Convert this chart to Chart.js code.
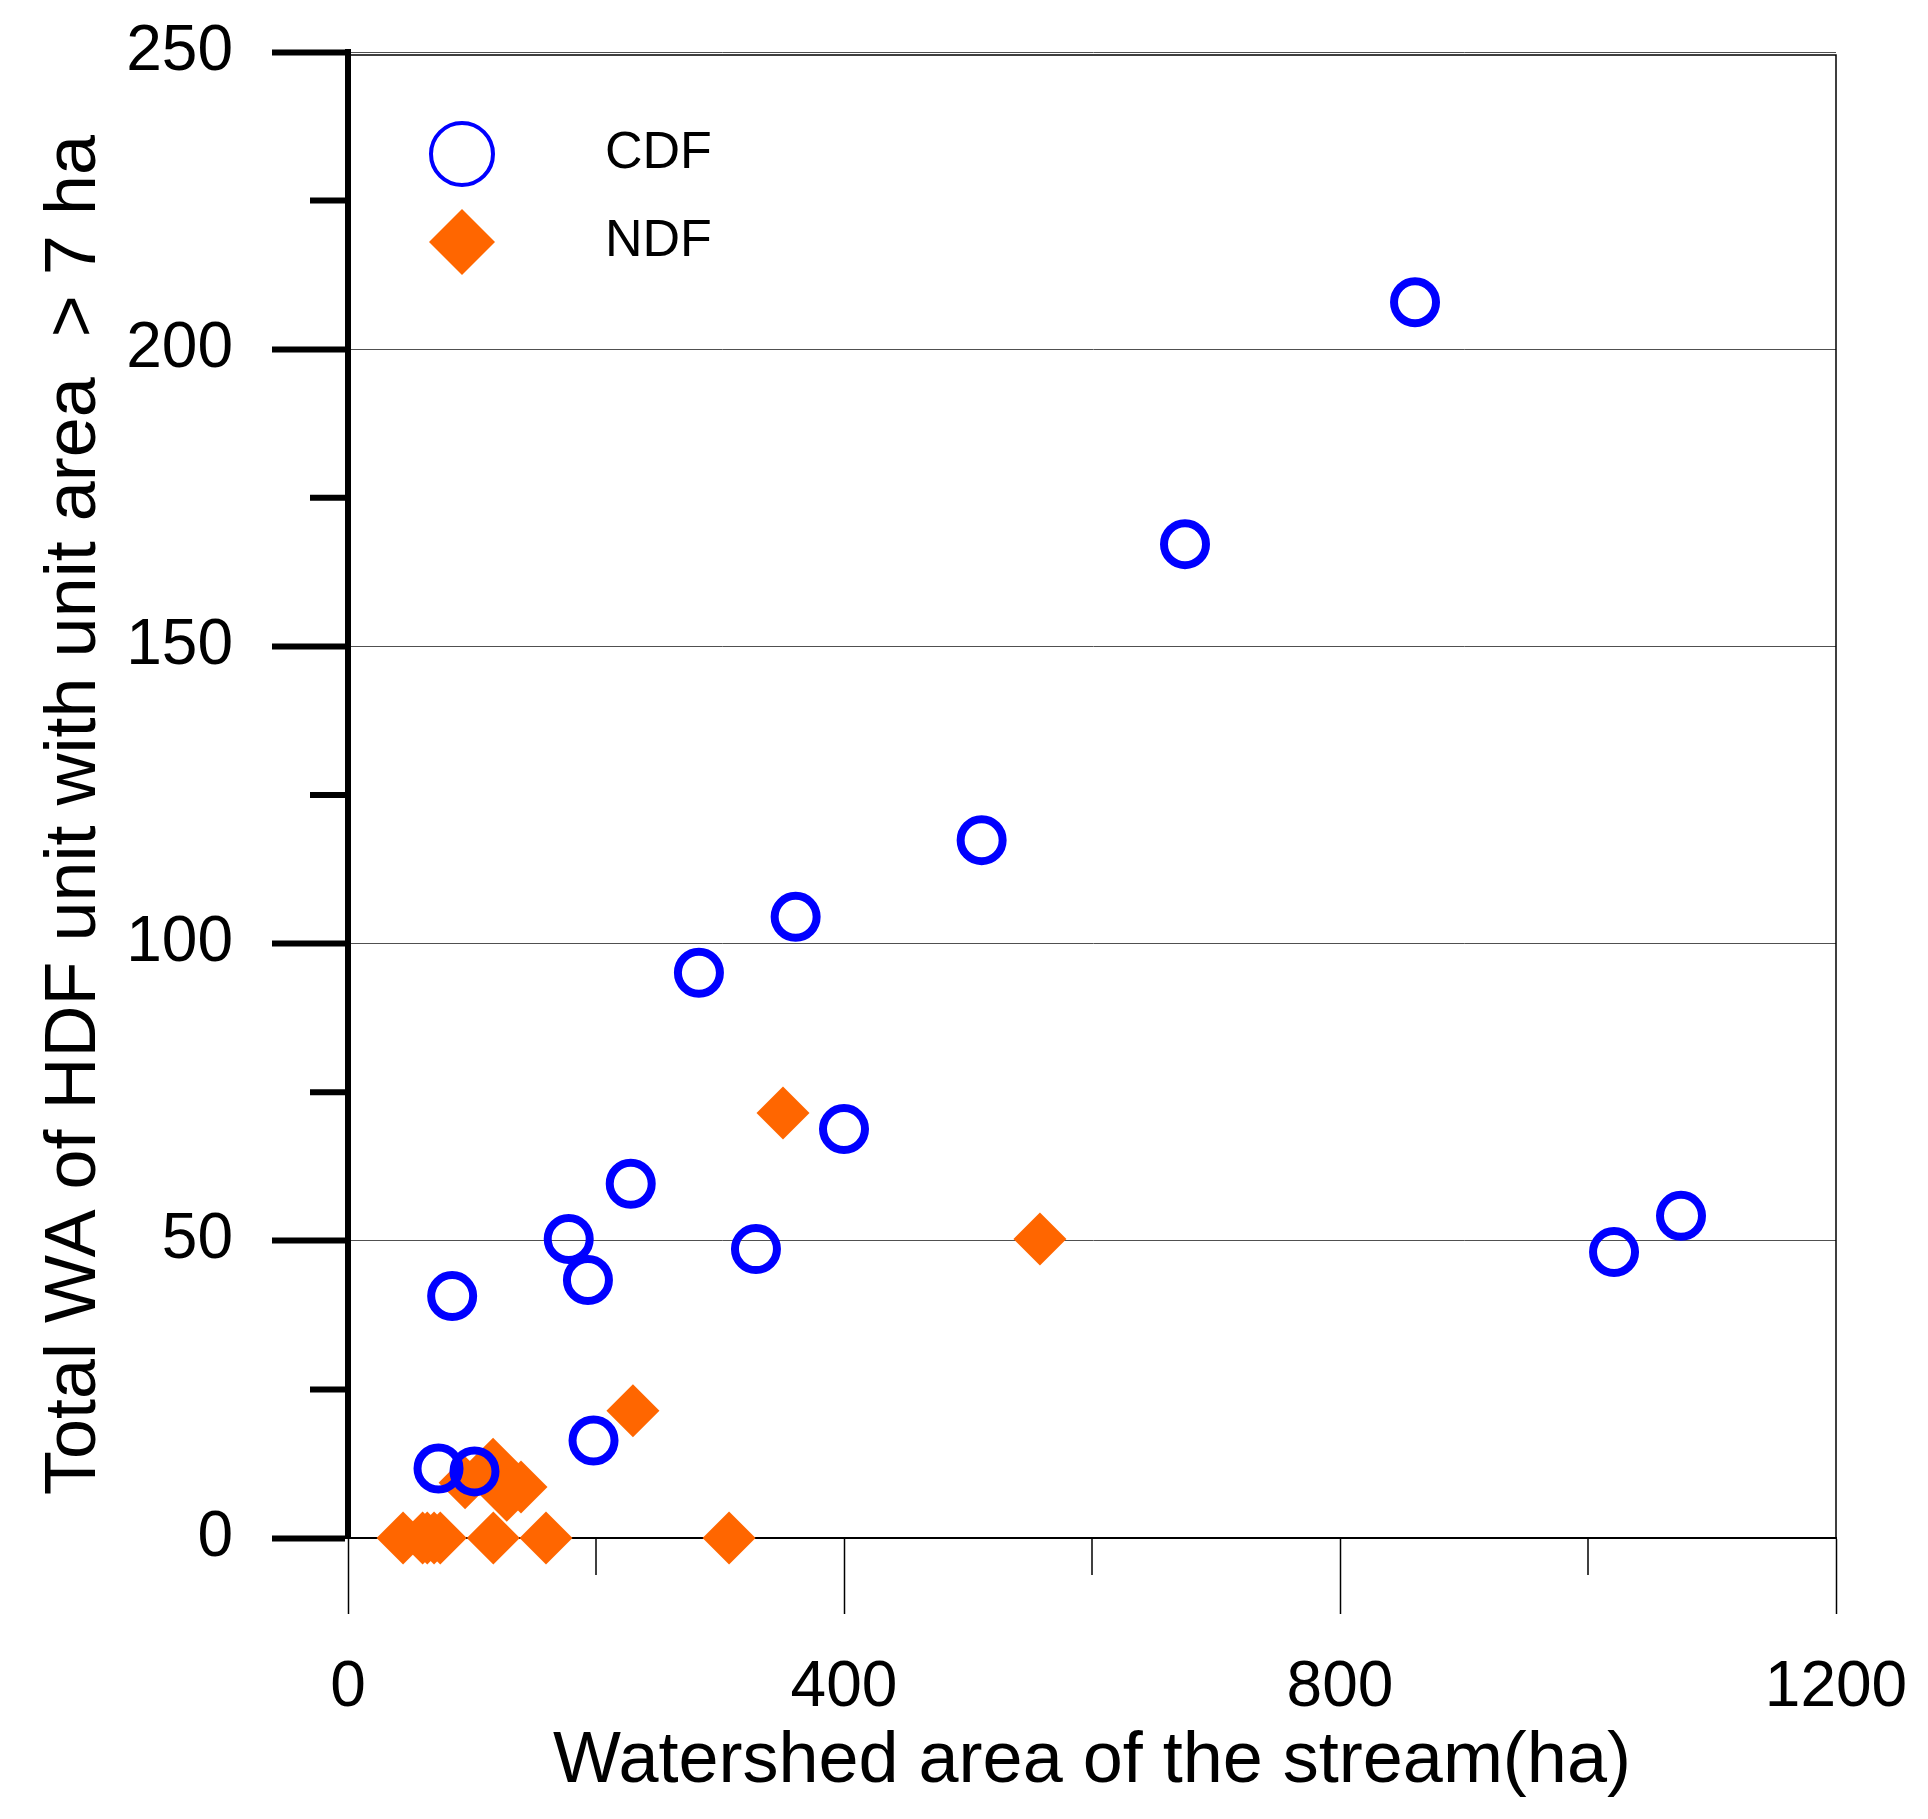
<!DOCTYPE html>
<html>
<head>
<meta charset="utf-8">
<script src="https://cdn.jsdelivr.net/npm/chart.js@4/dist/chart.umd.min.js"></script>
<style>
html, body { margin: 0; padding: 0; background: #fff; }
#wrap { width: 1928px; height: 1819px; position: relative; }
</style>
</head>
<body>
<div id="wrap"><canvas id="c"></canvas></div>
<script>
// ---- data ----
const seriesNames = ['CDF', 'NDF'];
const cdfX = [73, 84, 102, 178, 193.5, 198, 228, 283, 329, 361, 400, 511, 675, 860.5, 1021, 1075];
const cdfY = [11.7, 40.7, 11.2, 50.3, 43.4, 16.4, 59.6, 95.1, 48.6, 104.5, 68.8, 117.4, 167.2, 207.9, 48.1, 54.2];
const ndfX = [44.4, 60.2, 63.9, 69.4, 74.4, 94.4, 117, 117.2, 128, 139.5, 159.7, 229.8, 307.3, 350.8, 558];
const ndfY = [0, 0, 0, 0, 0, 9.3, 12.4, 0, 7.2, 8.6, 0, 21.4, 0, 71.5, 50.3];
const xTickValues = [0, 400, 800, 1200];
const xMinorTickValues = [200, 600, 1000];
const yTickValues = [0, 50, 100, 150, 200, 250];
const yMinorTickValues = [25, 75, 125, 175, 225];
const xAxisTitle = 'Watershed area of the stream(ha)';
const yAxisTitle = 'Total WA of HDF unit with unit area  > 7 ha';

const FONT = "'Liberation Sans', Arial, Helvetica, sans-serif";
Chart.defaults.font.family = FONT;
Chart.defaults.color = '#000';

const toPoints = (xs, ys) => xs.map((x, i) => ({ x: x, y: ys[i] }));

const decorPlugin = {
  id: 'decor',
  beforeDatasetsDraw(chart) {
    const { ctx, chartArea: a, scales: { x, y } } = chart;
    ctx.save();
    ctx.strokeStyle = '#000';
    // frame (top + right)
    ctx.lineWidth = 1.5;
    ctx.beginPath();
    ctx.moveTo(a.left, a.top + 3);
    ctx.lineTo(a.right, a.top + 3);
    ctx.lineTo(a.right, a.bottom);
    ctx.stroke();
    // minor y ticks
    ctx.lineWidth = 6;
    yMinorTickValues.forEach(v => {
      const p = y.getPixelForValue(v);
      ctx.beginPath();
      ctx.moveTo(a.left - 38, p);
      ctx.lineTo(a.left, p);
      ctx.stroke();
    });
    // minor x ticks
    ctx.lineWidth = 1.5;
    xMinorTickValues.forEach(v => {
      const p = x.getPixelForValue(v);
      ctx.beginPath();
      ctx.moveTo(p, a.bottom);
      ctx.lineTo(p, a.bottom + 37);
      ctx.stroke();
    });
    ctx.restore();
  },
  afterDraw(chart) {
    const { ctx, chartArea: a } = chart;
    ctx.save();
    chart.data.datasets.forEach((ds, i) => {
      const cx = a.left + 114;
      const cy = a.top + 102 + i * 88;
      ctx.beginPath();
      if (ds.pointStyle === 'circle') {
        ctx.arc(cx, cy, 31, 0, Math.PI * 2);
        ctx.lineWidth = 4;
        ctx.strokeStyle = ds.borderColor;
        ctx.stroke();
      } else {
        ctx.moveTo(cx - 33, cy);
        ctx.lineTo(cx, cy - 33);
        ctx.lineTo(cx + 33, cy);
        ctx.lineTo(cx, cy + 33);
        ctx.closePath();
        ctx.fillStyle = ds.backgroundColor;
        ctx.fill();
      }
      ctx.fillStyle = '#000';
      ctx.font = '52px ' + FONT;
      ctx.textAlign = 'left';
      ctx.textBaseline = 'middle';
      ctx.fillText(ds.label, a.left + 257, cy);
    });
    ctx.restore();
  }
};

new Chart(document.getElementById('c'), {
  type: 'scatter',
  data: {
    datasets: [
      {
        label: seriesNames[0],
        data: toPoints(cdfX, cdfY),
        pointStyle: 'circle',
        pointRadius: 21,
        pointBorderWidth: 8,
        borderColor: '#0000FF',
        backgroundColor: 'rgba(0,0,0,0)',
        clip: false
      },
      {
        label: seriesNames[1],
        data: toPoints(ndfX, ndfY),
        pointStyle: 'rectRot',
        pointRadius: 26.5,
        pointBorderWidth: 0,
        borderColor: '#FF6600',
        backgroundColor: '#FF6600',
        clip: false
      }
    ]
  },
  options: {
    responsive: true,
    maintainAspectRatio: false,
    devicePixelRatio: 1,
    animation: false,
    events: [],
    layout: { padding: { top: 52, right: 92, left: 0, bottom: 0 } },
    plugins: { legend: { display: false }, tooltip: { enabled: false } },
    scales: {
      x: {
        type: 'linear',
        position: 'bottom',
        min: 0,
        max: 1200,
        afterBuildTicks: s => { s.ticks = xTickValues.map(v => ({ value: v })); },
        afterFit: s => { s.height = 281; s.paddingLeft = 0; s.paddingRight = 0; },
        grid: { display: true, drawOnChartArea: false, drawTicks: true, tickLength: 76, tickWidth: 1.5, tickColor: '#000' },
        border: { display: true, color: '#000', width: 2 },
        ticks: { font: { size: 64 }, color: '#000', padding: 36, maxRotation: 0, autoSkip: false, callback: v => String(v) },
        title: { display: true, text: xAxisTitle, font: { size: 72 }, color: '#000', padding: { top: 0, bottom: 14 } }
      },
      y: {
        type: 'linear',
        position: 'left',
        min: 0,
        max: 250,
        afterBuildTicks: s => { s.ticks = yTickValues.map(v => ({ value: v })); },
        afterFit: s => { s.width = 348; s.paddingTop = 0; s.paddingBottom = 0; },
        grid: {
          display: true,
          drawOnChartArea: true,
          color: c => (c.tick && c.tick.value === 0) ? 'rgba(0,0,0,0)' : '#505050',
          lineWidth: 1,
          drawTicks: true,
          tickLength: 76,
          tickWidth: 6,
          tickColor: '#000'
        },
        border: { display: true, color: '#000', width: 6 },
        ticks: { font: { size: 64 }, color: '#000', padding: 39, callback: v => String(v) },
        title: { display: true, text: yAxisTitle + '  ', font: { size: 72 }, color: '#000', padding: { top: 32, bottom: 0 } }
      }
    }
  },
  plugins: [decorPlugin]
});
</script>
</body>
</html>
